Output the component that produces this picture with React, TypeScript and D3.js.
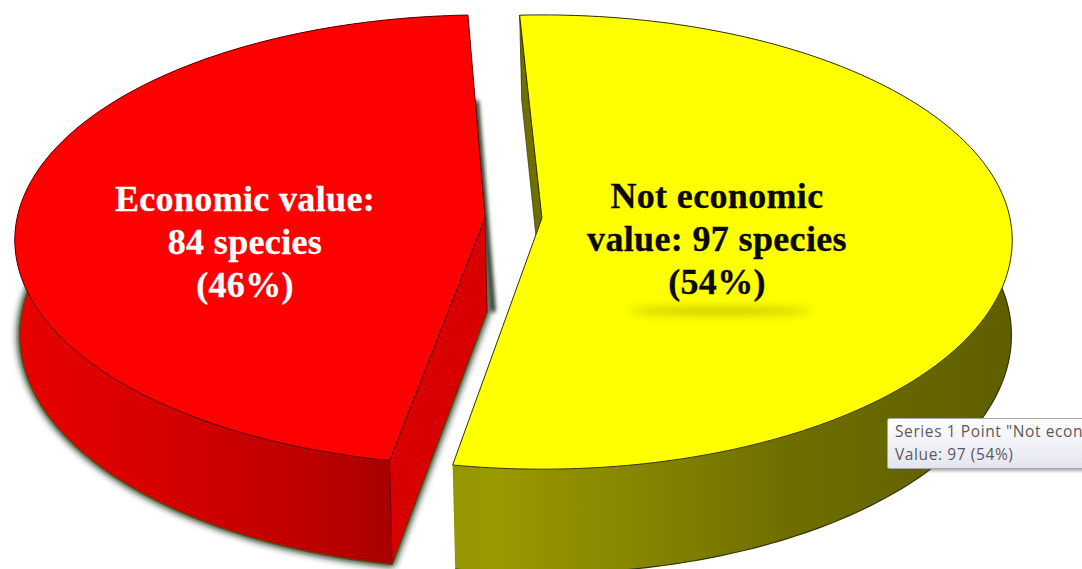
import React from "react";
import * as d3 from "d3";

// Species counts per slice
const categories = ["Not economic value", "Economic value"];
const speciesCounts = [97, 84];
const labelLines = [
  ["Not economic", "value: 97 species", "(54%)"],
  ["Economic value:", "84 species", "(46%)"],
];
const tooltipLines = ['Series 1 Point "Not econ', "Value: 97 (54%)"];

const W = 1082;
const H = 569;
const toRad = Math.PI / 180;

// Perspective disc: v runs from -1 (far rim) to 1 (near rim)
const centre = { x: 513.5, y: 218 };
const radiusX = 468;
const radiusY = 223;
const perspective = 0.098;
const wallDepth = 94;
const explode = 28.5;
const lowerRimScale = 0.994;
// Per-slice tweaks: angular rotation of the cuts and stretch of the near rim
const cutRotation = [0, 0.7 * toRad];
const nearStretch = [1.016, 1];

const project = (ox: number, u: number, v: number, depth: number, stretch = 1) => {
  const s = 1 / (1 - perspective * v);
  const rimScale = depth ? lowerRimScale : 1;
  const vy = v > 0 ? v * stretch : v;
  return [
    centre.x + ox + radiusX * u * s * rimScale + (depth ? 2 : 0),
    centre.y + radiusY * vy * s + depth * s,
  ] as [number, number];
};

const arcPoints = (ox: number, a0: number, a1: number, depth: number, stretch: number) =>
  d3.range(0, 181).map((i) => {
    const a = a0 + ((a1 - a0) * i) / 180;
    return project(ox, Math.sin(a), -Math.cos(a), depth, stretch);
  });

const line = d3.line<[number, number]>().x((d) => d[0]).y((d) => d[1]);
const closed = (pts: [number, number][]) => (line(pts) ?? "") + "Z";

const pie = d3
  .pie<number>()
  .sort(null)
  .startAngle(-3 * toRad)
  .endAngle(357 * toRad);

const slices = pie(speciesCounts).map((s, i) => {
  const a0 = s.startAngle + cutRotation[i];
  const a1 = s.endAngle + cutRotation[i];
  const offset = explode * Math.sin((a0 + a1) / 2);
  const top = arcPoints(offset, a0, a1, 0, nearStretch[i]);
  const bottom = arcPoints(offset, a0, a1, wallDepth, nearStretch[i]);
  return {
    top,
    bottom,
    apexTop: project(offset, 0, 0, 0),
    apexBottom: project(offset, 0, 0, wallDepth),
  };
});

const palette = [
  { top: "#ffff00", face: "#6f6f00", edge: "#333300", rim: "#333300", wall: "url(#wallYellow)" },
  { top: "#ff0000", face: "#d80000", edge: "#5a0000", rim: "#4f5200", wall: "url(#wallRed)" },
];

const labelPos = [
  { x: 717, y: 208 },
  { x: 245, y: 211 },
];
const labelColor = ["#0a0a00", "#ffffff"];
const labelStep = 43.2;

function Slice({ i }: { i: number }) {
  const s = slices[i];
  const c = palette[i];
  // The slice's starting cut is the face that can be seen: far on yellow, near on red
  const facePts: [number, number][] = [s.top[0], s.apexTop, s.apexBottom, s.bottom[0]];
  const farShadow = [s.bottom[180], s.apexBottom].map(
    ([x, y]) => [x + 6, y] as [number, number]
  );
  return (
    <g>
      {i === 1 && (
        <>
          <path
            d={closed([s.apexBottom, ...s.bottom])}
            fill="#10240c"
            stroke="#10240c"
            strokeWidth={4}
            filter="url(#soft)"
          />
          <path
            d={line(farShadow) ?? ""}
            fill="none"
            stroke="#10240c"
            strokeWidth={5}
            filter="url(#softLine)"
          />
        </>
      )}
      <path d={closed([...s.top, ...[...s.bottom].reverse()])} fill={c.wall} />
      <path d={line(s.bottom) ?? ""} fill="none" stroke={c.rim} strokeWidth={1.2} />
      <path d={closed(facePts)} fill={c.face} stroke={c.edge} strokeWidth={0.7} />
      {i === 1 && (
        <path d={line([s.bottom[0], s.apexBottom]) ?? ""} stroke={c.rim} strokeWidth={1.2} fill="none" />
      )}
      <path
        d={closed([s.apexTop, ...s.top])}
        fill={c.top}
        stroke={c.edge}
        strokeWidth={1}
      />
    </g>
  );
}

export default function App() {
  return (
    <svg
      width={W}
      height={H}
      viewBox={`0 0 ${W} ${H}`}
      style={{ position: "absolute", left: 0, top: 0, background: "#fff" }}
    >
      <defs>
        <filter id="soft" x="-10%" y="-10%" width="120%" height="120%">
          <feGaussianBlur stdDeviation="3.5" />
        </filter>
        <filter id="softLine" filterUnits="userSpaceOnUse" x="440" y="70" width="90" height="270">
          <feGaussianBlur stdDeviation="2" />
        </filter>
        <filter id="glow" x="-20%" y="-300%" width="140%" height="700%">
          <feGaussianBlur stdDeviation="5" />
        </filter>
        <filter id="tipShadow" x="-5%" y="-20%" width="110%" height="150%">
          <feGaussianBlur stdDeviation="1.5" />
        </filter>
        <linearGradient id="wallYellow" gradientUnits="userSpaceOnUse" x1="452" x2="1012" y1="0" y2="0">
          <stop offset="0" stopColor="#959500" />
          <stop offset="0.08" stopColor="#999900" />
          <stop offset="0.4" stopColor="#808000" />
          <stop offset="0.6" stopColor="#6e6e00" />
          <stop offset="0.8" stopColor="#666600" />
          <stop offset="1" stopColor="#5f5f00" />
        </linearGradient>
        <linearGradient id="wallRed" gradientUnits="userSpaceOnUse" x1="15" x2="392" y1="0" y2="0">
          <stop offset="0" stopColor="#e80000" />
          <stop offset="0.35" stopColor="#d80000" />
          <stop offset="0.6" stopColor="#c80000" />
          <stop offset="0.85" stopColor="#b80000" />
          <stop offset="1" stopColor="#a80000" />
        </linearGradient>
        <linearGradient id="tipFill" x1="0" x2="0" y1="0" y2="1">
          <stop offset="0" stopColor="#ffffff" />
          <stop offset="1" stopColor="#e4e5f0" />
        </linearGradient>
      </defs>

      <g aria-label={categories.join(", ")}>
        <Slice i={1} />
        <Slice i={0} />
      </g>

      <ellipse cx={720} cy={311} rx={92} ry={3.5} fill="#8a8a00" opacity={0.55} filter="url(#glow)" />

      {labelLines.map((lines, i) =>
        lines.map((t, j) => (
          <text
            key={t}
            x={labelPos[i].x}
            y={labelPos[i].y + j * labelStep}
            textAnchor="middle"
            fontFamily="'Liberation Serif', serif"
            fontWeight="bold"
            fontSize={36}
            letterSpacing={0.35}
            fill={labelColor[i]}
            stroke={labelColor[i]}
            strokeWidth={0.3}
          >
            {t}
          </text>
        ))
      )}

      <rect x={889} y={421} width={200} height={50} rx={2} fill="#555" opacity={0.5} filter="url(#tipShadow)" />
      <rect x={887.5} y={418.5} width={200} height={50} rx={2} fill="url(#tipFill)" stroke="#a8a8a8" />
      {tooltipLines.map((t, i) => (
        <text
          key={t}
          x={895}
          y={437 + i * 23}
          fontFamily="'Open Sans', sans-serif"
          fontSize={15.5}
          letterSpacing={0.6}
          fill="#5a5a5e"
        >
          {t}
        </text>
      ))}
    </svg>
  );
}
